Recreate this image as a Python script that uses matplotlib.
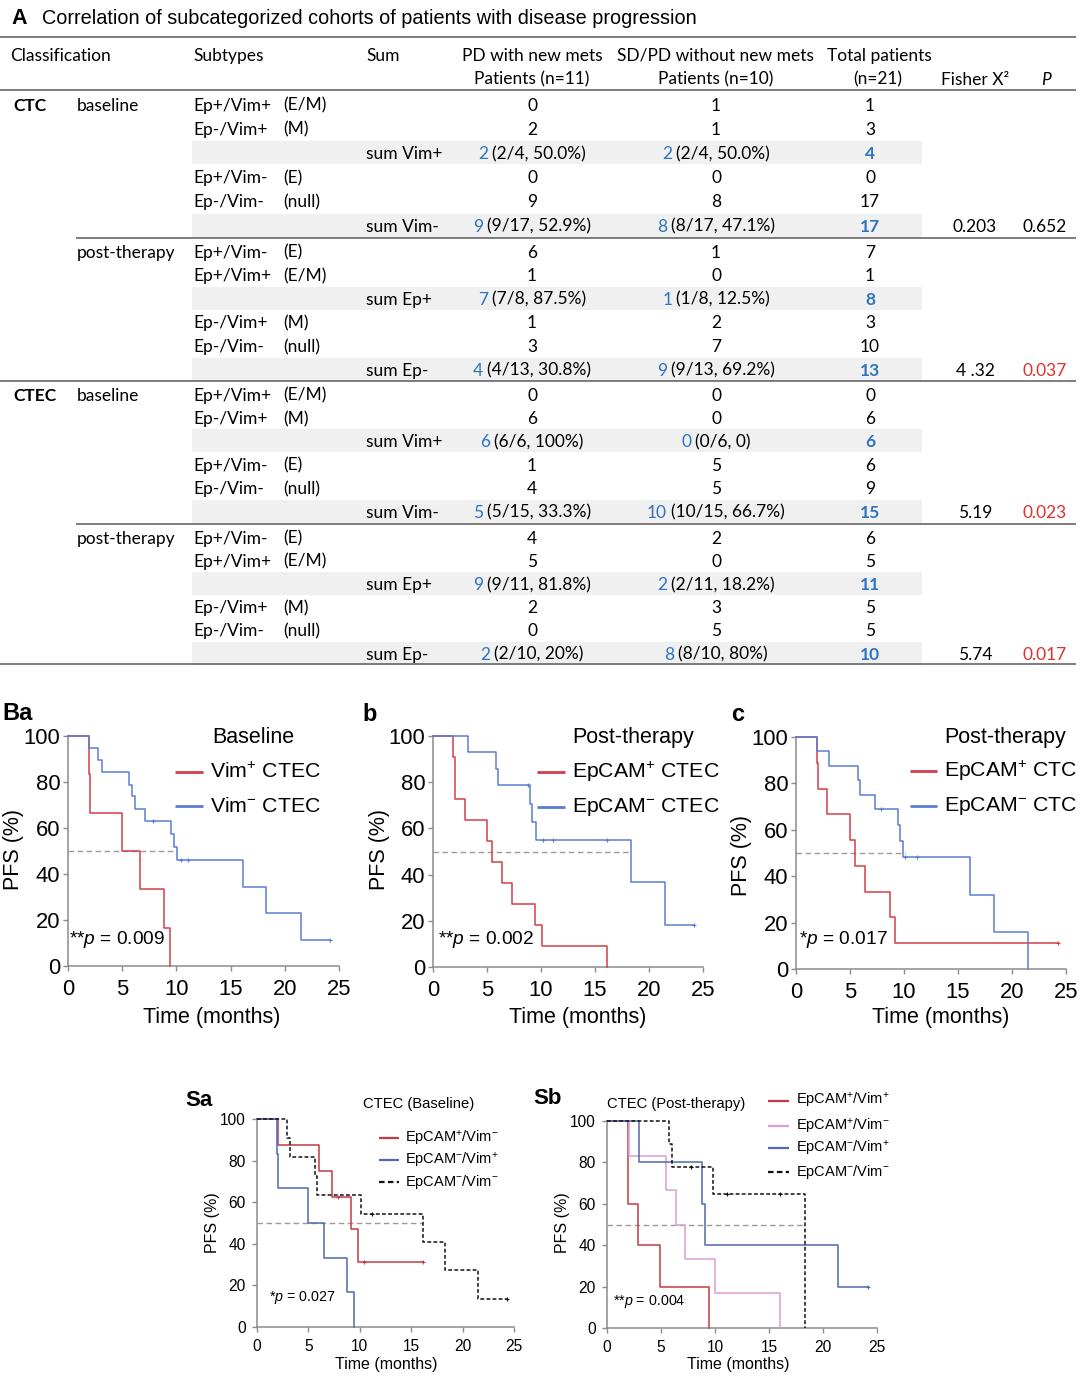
import matplotlib
matplotlib.use("Agg")
import matplotlib.pyplot as plt
import numpy as np

W, H = 1080, 1388
plt.rcParams['mathtext.fontset'] = 'custom'
plt.rcParams['mathtext.rm'] = 'Liberation Sans'
plt.rcParams['mathtext.it'] = 'Liberation Sans:italic'
plt.rcParams['mathtext.bf'] = 'Liberation Sans:bold'
plt.rcParams['font.family'] = ['Liberation Sans', 'DejaVu Sans']

# ------------------------------------------------------------------ table data
title_letter = "A"
title_text = "Correlation of subcategorized cohorts of patients with disease progression"
cls_labels = ["CTC", "CTEC"]
phase_labels = ["baseline", "post-therapy", "baseline", "post-therapy"]
row_subtype = ["Ep+/Vim+", "Ep-/Vim+", "", "Ep+/Vim-", "Ep-/Vim-", "",
               "Ep+/Vim-", "Ep+/Vim+", "", "Ep-/Vim+", "Ep-/Vim-", "",
               "Ep+/Vim+", "Ep-/Vim+", "", "Ep+/Vim-", "Ep-/Vim-", "",
               "Ep+/Vim-", "Ep+/Vim+", "", "Ep-/Vim+", "Ep-/Vim-", ""]
row_code = ["(E/M)", "(M)", "", "(E)", "(null)", "",
            "(E)", "(E/M)", "", "(M)", "(null)", "",
            "(E/M)", "(M)", "", "(E)", "(null)", "",
            "(E)", "(E/M)", "", "(M)", "(null)", ""]
row_sum = ["", "", "sum Vim+", "", "", "sum Vim-",
           "", "", "sum Ep+", "", "", "sum Ep-",
           "", "", "sum Vim+", "", "", "sum Vim-",
           "", "", "sum Ep+", "", "", "sum Ep-"]
row_pd = ["0", "2", "2 (2/4, 50.0%)", "0", "9", "9 (9/17, 52.9%)",
          "6", "1", "7 (7/8, 87.5%)", "1", "3", "4 (4/13, 30.8%)",
          "0", "6", "6 (6/6, 100%)", "1", "4", "5 (5/15, 33.3%)",
          "4", "5", "9 (9/11, 81.8%)", "2", "0", "2 (2/10, 20%)"]
row_sd = ["1", "1", "2 (2/4, 50.0%)", "0", "8", "8 (8/17, 47.1%)",
          "1", "0", "1 (1/8, 12.5%)", "2", "7", "9 (9/13, 69.2%)",
          "0", "0", "0 (0/6, 0)", "5", "5", "10 (10/15, 66.7%)",
          "2", "0", "2 (2/11, 18.2%)", "3", "5", "8 (8/10, 80%)"]
row_total = ["1", "3", "4", "0", "17", "17",
             "7", "1", "8", "3", "10", "13",
             "0", "6", "6", "6", "9", "15",
             "6", "5", "11", "5", "5", "10"]
fisher_vals = ["0.203", "4 .32", "5.19", "5.74"]
p_vals = ["0.652", "0.037", "0.023", "0.017"]
p_significant = [False, True, True, True]

# ------------------------------------------------------------------ KM data
# Ba: baseline CTEC
ba_vimpos_t = [1.9, 2.0, 5.0, 6.6, 8.9, 9.4]
ba_vimpos_s = [83.3, 66.7, 50.0, 33.3, 16.7, 0.0]
ba_vimpos_c = []
ba_vimneg_t = [1.9, 2.8, 3.1, 5.6, 5.9, 6.2, 7.1, 9.5, 9.8, 10.1, 16.1, 18.3, 21.5]
ba_vimneg_s = [94.7, 89.5, 84.2, 78.9, 73.7, 68.4, 63.2, 57.4, 51.7, 45.9, 34.4, 22.9, 11.5]
ba_vimneg_c = [7.8, 10.4, 11.1, 24.2]
# b: post-therapy CTEC
b_eppos_t = [1.85, 2.0, 3.0, 5.0, 5.5, 6.4, 7.3, 9.4, 10.1, 16.1]
b_eppos_s = [90.9, 72.7, 63.6, 54.5, 45.5, 36.4, 27.3, 18.2, 9.1, 0.0]
b_eppos_c = []
b_epneg_t = [3.2, 5.8, 6.0, 9.0, 9.2, 9.5, 18.3, 21.5]
b_epneg_s = [92.9, 85.7, 78.6, 70.7, 62.9, 55.0, 36.7, 18.3]
b_epneg_c = [8.8, 10.2, 11.1, 16.1, 24.2]
# c: post-therapy CTC
c_eppos_t = [1.9, 2.0, 2.9, 5.0, 5.5, 6.4, 8.7, 9.2]
c_eppos_s = [88.9, 77.8, 66.7, 55.6, 44.4, 33.3, 22.2, 11.1]
c_eppos_c = [24.3]
c_epneg_t = [1.9, 3.1, 5.7, 5.9, 7.3, 9.4, 9.6, 9.9, 16.1, 18.3, 21.5]
c_epneg_s = [93.8, 87.5, 81.3, 75.0, 68.8, 61.9, 55.0, 48.1, 32.1, 16.0, 0.0]
c_epneg_c = [7.9, 10.1, 11.2]
# Sa: CTEC baseline
sa_pn_t = [2.0, 6.0, 7.3, 9.1, 9.8]
sa_pn_s = [87.5, 75.0, 62.5, 46.9, 31.3]
sa_pn_c = [7.9, 10.4, 16.1]
sa_np_t = [1.95, 2.05, 5.0, 6.5, 8.8, 9.4]
sa_np_s = [83.3, 66.7, 50.0, 33.3, 16.7, 0.0]
sa_np_c = []
sa_nn_t = [2.9, 3.2, 5.6, 5.8, 10.1, 16.1, 18.3, 21.5]
sa_nn_s = [90.9, 81.8, 72.7, 63.6, 54.5, 40.9, 27.3, 13.6]
sa_nn_c = [11.2, 24.3]
# Sb: CTEC post-therapy
sb_pp_t = [1.95, 2.9, 4.9, 9.4]
sb_pp_s = [60.0, 40.0, 20.0, 0.0]
sb_pp_c = []
sb_pn_t = [2.0, 5.5, 6.4, 7.2, 10.0, 16.0]
sb_pn_s = [83.3, 66.7, 50.0, 33.3, 16.7, 0.0]
sb_pn_c = []
sb_np_t = [3.0, 8.8, 9.1, 21.4]
sb_np_s = [80.0, 60.0, 40.0, 20.0]
sb_np_c = [24.2]
sb_nn_t = [5.75, 6.05, 9.8, 18.3]
sb_nn_s = [88.9, 77.8, 64.8, 0.0]
sb_nn_c = [7.8, 11.1, 16.0]

median_ends = {"Ba": 10.1, "b": 18.3, "c": 10.1, "Sa": 16.1, "Sb": 18.3}
p_texts = {"Ba": r"**$p$ = 0.009", "b": r"**$p$ = 0.002", "c": r"*$p$ = 0.017",
           "Sa": r"*$p$ = 0.027", "Sb": r"**$p$ = 0.004"}

# ------------------------------------------------------------------ styles
RED = '#d43d48'
BLUE = '#5b7dd2'
SA_RED = '#c53a44'
SA_BLUE = '#4f6aae'
PINK = '#dc9ed6'
BLACK = '#111111'
AXC = '#8c8c8c'
TBLUE = '#2e74c0'
TRED = '#e0302c'
LINEC = '#5a5a5a'
SHADE = '#f0f0f0'

fig = plt.figure(figsize=(W / 100, H / 100), dpi=100)
ov = fig.add_axes([0, 0, 1, 1])
ov.set_xlim(0, W)
ov.set_ylim(H, 0)
ov.axis('off')
ov.patch.set_visible(False)
renderer = fig.canvas.get_renderer()

TF = ['Lato', 'DejaVu Sans']
TS = 12.5


def ttext(x, y, s, ha='left', color='black', weight='normal', style='normal', size=TS):
    return ov.text(x, y, s, ha=ha, va='center_baseline', fontsize=size, family=TF,
                   color=color, fontweight=weight, fontstyle=style)


def mixed(xc, y, s):
    num, rest = s.split(' ', 1)
    t1 = ttext(0, y, num, color=TBLUE)
    t2 = ttext(0, y, rest)
    w1 = t1.get_window_extent(renderer).width
    w2 = t2.get_window_extent(renderer).width
    gap = 4.0
    x0 = xc - (w1 + gap + w2) / 2
    t1.set_x(x0)
    t2.set_x(x0 + w1 + gap)


# title
ov.text(11, 18, title_letter, fontsize=15.5, fontweight='bold', va='center', ha='left')
ov.text(42, 18, title_text, fontsize=14.3, va='center', ha='left')

# rules
for y, xs in [(37, 0), (90, 0), (238, 76), (381, 0), (524, 76), (664, 0)]:
    ov.plot([xs, 1076], [y, y], color=LINEC, lw=1.1, solid_capstyle='butt')

# header
HY1, HY2 = 54, 78
ttext(10, HY1, "Classification")
ttext(193, HY1, "Subtypes")
ttext(366, HY1, "Sum")
ttext(532, HY1, "PD with new mets", ha='center')
ttext(532, HY2, "Patients (n=11)", ha='center')
ttext(715, HY1, "SD/PD without new mets", ha='center')
ttext(716, HY2, "Patients (n=10)", ha='center')
ttext(879, HY1, "Total patients", ha='center')
ttext(878, HY2, "(n=21)", ha='center')
ttext(975, HY2, "Fisher X²", ha='center')
ttext(1046, HY2, "P", ha='center', style='italic')

# row positions
group_start = [104, 251, 394, 537]
group_end = [225, 369, 511, 653]
row_y = []
for g in range(4):
    for i in range(6):
        row_y.append(group_start[g] + i * (group_end[g] - group_start[g]) / 5)

# shading for sum rows
for i, s in enumerate(row_sum):
    if s:
        ov.fill_between([192, 922], row_y[i] - 11.5, row_y[i] + 11.5, color=SHADE, lw=0, zorder=0)

ttext(13, row_y[0], cls_labels[0], weight='bold')
ttext(13, row_y[12], cls_labels[1], weight='bold')
for g in range(4):
    ttext(77, row_y[g * 6], phase_labels[g])

for i in range(24):
    y = row_y[i]
    if row_subtype[i]:
        ttext(193, y, row_subtype[i])
        ttext(283, y, row_code[i])
        ttext(532, y, row_pd[i], ha='center')
        ttext(716, y, row_sd[i], ha='center')
        ttext(870, y, row_total[i], ha='center')
    else:
        ttext(366, y, row_sum[i])
        mixed(532, y, row_pd[i])
        mixed(716, y, row_sd[i])
        ttext(870, y, row_total[i], ha='center', color=TBLUE, weight='bold')

for k in range(4):
    y = row_y[6 * k + 5]
    ttext(975, y, fisher_vals[k], ha='center')
    ttext(1045, y, p_vals[k], ha='center', color=TRED if p_significant[k] else 'black')


# ------------------------------------------------------------------ KM panels
def px_axes(x0, x1, y0, y1):
    ax = fig.add_axes([x0 / W, 1 - y1 / H, (x1 - x0) / W, (y1 - y0) / H])
    ax.patch.set_alpha(0)
    return ax


def km(ax, times, levels, censor, color, ls='-', lw=1.1):
    t = np.concatenate([[0.0], np.asarray(times, float)])
    s = np.concatenate([[100.0], np.asarray(levels, float)])
    if len(censor) and max(censor) > t[-1]:
        t = np.append(t, max(censor))
        s = np.append(s, s[-1])
    ax.step(t, s, where='post', color=color, ls=ls, lw=lw, clip_on=False, zorder=3)
    if len(censor):
        cy = [s[np.searchsorted(t, c, side='right') - 1] for c in censor]
        ax.plot(censor, cy, ls='none', marker='+', ms=3.5, mew=0.8, color=color,
                clip_on=False, zorder=4)


def style(ax, rect, fs, xpad, ypad, labfs, xlab, ylab, median_end):
    ax.plot([0, median_end], [50, 50], color='#9a9a9a', ls=(0, (4, 2.5)), lw=1.0, zorder=2)
    ax.set_xlim(0, 25)
    ax.set_ylim(0, 100)
    ax.set_xticks(range(0, 26, 5))
    ax.set_yticks(range(0, 101, 20))
    for sp in ['top', 'right']:
        ax.spines[sp].set_visible(False)
    for sp in ['left', 'bottom']:
        ax.spines[sp].set_color(AXC)
        ax.spines[sp].set_linewidth(1.1)
    ax.tick_params(axis='both', direction='out', length=3.5, width=1.0, color=AXC,
                   labelsize=fs, labelcolor='black')
    ax.tick_params(axis='x', pad=xpad)
    ax.tick_params(axis='y', pad=ypad)
    x0, x1, y0, y1 = rect
    ax.set_xlabel('Time (months)', fontsize=labfs)
    ax.xaxis.set_label_coords((xlab[0] - x0) / (x1 - x0), (y1 - xlab[1]) / (y1 - y0))
    ax.xaxis.label.set_va('center')
    ax.set_ylabel('PFS (%)', fontsize=labfs)
    ax.yaxis.set_label_coords((ylab[0] - x0) / (x1 - x0), (y1 - ylab[1]) / (y1 - y0))
    ax.yaxis.label.set_va('center')
    ax.yaxis.label.set_ha('center')


def legend(entries, x0, x1, xt, ys, fs, lw=2.0):
    for (lab, col, ls), y in zip(entries, ys):
        ov.plot([x0, x1], [y, y], color=col, ls=ls, lw=lw, solid_capstyle='butt')
        ov.text(xt, y, lab, fontsize=fs, va='center', ha='left')


BIG_FS = 15.8
# Ba
r = (68, 339, 736, 966)
ax = px_axes(*r)
km(ax, ba_vimpos_t, ba_vimpos_s, ba_vimpos_c, RED)
km(ax, ba_vimneg_t, ba_vimneg_s, ba_vimneg_c, BLUE)
style(ax, r, BIG_FS, 6.0, 2.0, 15.5, (212, 1018), (13, 850), median_ends["Ba"])
ax.text(0.005, (966 - 939) / 230, p_texts["Ba"], transform=ax.transAxes, fontsize=13.8, va='center', ha='left')
ov.text(2, 713, "Ba", fontsize=17, fontweight='bold', va='center', ha='left')
ov.text(212, 737, "Baseline", fontsize=15.5, va='center', ha='left')
legend([(r"Vim$^{+}$ CTEC", RED, '-'), (r"Vim$^{-}$ CTEC", BLUE, '-')],
       175, 203, 210, [772, 806], 15.3)

# b
r = (433, 703, 736, 967)
ax = px_axes(*r)
km(ax, b_eppos_t, b_eppos_s, b_eppos_c, RED)
km(ax, b_epneg_t, b_epneg_s, b_epneg_c, BLUE)
style(ax, r, BIG_FS, 6.0, 2.0, 15.5, (578, 1018), (380, 850), median_ends["b"])
ax.text(0.02, (967 - 940) / 231, p_texts["b"], transform=ax.transAxes, fontsize=13.8, va='center', ha='left')
ov.text(362, 714, "b", fontsize=17, fontweight='bold', va='center', ha='left')
ov.text(572, 737, "Post-therapy", fontsize=15.5, va='center', ha='left')
legend([(r"EpCAM$^{+}$ CTEC", RED, '-'), (r"EpCAM$^{-}$ CTEC", BLUE, '-')],
       537, 565, 572, [772, 807], 15.3)

# c
r = (796, 1066, 737, 969)
ax = px_axes(*r)
km(ax, c_eppos_t, c_eppos_s, c_eppos_c, RED)
km(ax, c_epneg_t, c_epneg_s, c_epneg_c, BLUE)
style(ax, r, BIG_FS, 6.0, 2.0, 15.5, (941, 1018), (742, 855), median_ends["c"])
ax.text(0.01, (969 - 939) / 232, p_texts["c"], transform=ax.transAxes, fontsize=13.8, va='center', ha='left')
ov.text(731, 714, "c", fontsize=17, fontweight='bold', va='center', ha='left')
ov.text(944, 737, "Post-therapy", fontsize=15.5, va='center', ha='left')
legend([(r"EpCAM$^{+}$ CTC", RED, '-'), (r"EpCAM$^{-}$ CTC", BLUE, '-')],
       910, 937, 944, [771, 806], 15.3)

SM_FS = 11.2
# Sa
r = (257, 514, 1119, 1327)
ax = px_axes(*r)
km(ax, sa_pn_t, sa_pn_s, sa_pn_c, SA_RED)
km(ax, sa_np_t, sa_np_s, sa_np_c, SA_BLUE)
km(ax, sa_nn_t, sa_nn_s, sa_nn_c, BLACK, ls=(0, (2.5, 1.5)))
style(ax, r, SM_FS, 5.0, 4.5, 11.5, (386, 1365), (212, 1223), median_ends["Sa"])
ax.text(0.045, (1327 - 1298) / 208, p_texts["Sa"], transform=ax.transAxes, fontsize=10.3, va='center', ha='left')
ov.text(185, 1100, "Sa", fontsize=16, fontweight='bold', va='center', ha='left')
ov.text(363, 1104, "CTEC (Baseline)", fontsize=10.6, va='center', ha='left')
legend([(r"EpCAM$^{+}$/Vim$^{-}$", SA_RED, '-'), (r"EpCAM$^{-}$/Vim$^{+}$", SA_BLUE, '-'),
        (r"EpCAM$^{-}$/Vim$^{-}$", BLACK, (0, (2.5, 1.5)))],
       379, 399, 405, [1138, 1160, 1182], 10.5, lw=1.6)

# Sb
r = (607, 877, 1121, 1328)
ax = px_axes(*r)
km(ax, sb_pp_t, sb_pp_s, sb_pp_c, SA_RED)
km(ax, sb_pn_t, sb_pn_s, sb_pn_c, PINK)
km(ax, sb_np_t, sb_np_s, sb_np_c, SA_BLUE)
km(ax, sb_nn_t, sb_nn_s, sb_nn_c, BLACK, ls=(0, (2.5, 1.5)))
style(ax, r, SM_FS, 5.0, 4.5, 11.5, (738, 1365), (563, 1223), median_ends["Sb"])
ax.text(0.022, (1328 - 1302) / 207, p_texts["Sb"], transform=ax.transAxes, fontsize=10.3, va='center', ha='left')
ov.text(533, 1099, "Sb", fontsize=16, fontweight='bold', va='center', ha='left')
ov.text(607, 1104, "CTEC (Post-therapy)", fontsize=10.6, va='center', ha='left')
legend([(r"EpCAM$^{+}$/Vim$^{+}$", SA_RED, '-'), (r"EpCAM$^{+}$/Vim$^{-}$", PINK, '-'),
        (r"EpCAM$^{-}$/Vim$^{+}$", SA_BLUE, '-'), (r"EpCAM$^{-}$/Vim$^{-}$", BLACK, (0, (2.5, 1.5)))],
       768, 789, 796, [1101, 1126, 1148, 1172], 10.5, lw=1.6)

fig.savefig("out.png", dpi=100)
